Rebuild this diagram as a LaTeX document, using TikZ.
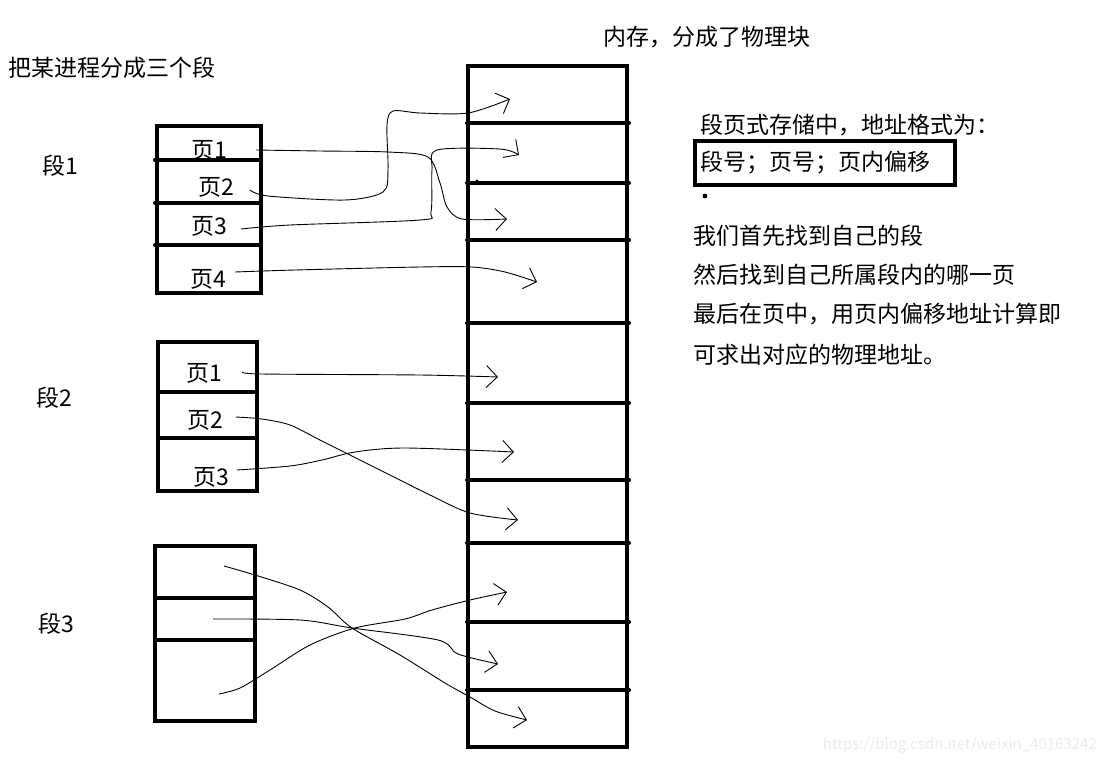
\documentclass[tikz,border=0pt]{standalone}
\usepackage{fontspec}
\setmainfont{Noto Sans CJK SC}
\usetikzlibrary{arrows.meta}

\begin{document}
\begin{tikzpicture}[x=1pt,y=-1pt,
    txt/.style={font=\fontsize{23}{27}\selectfont,inner sep=0pt},
    box/.style={line width=4.5pt},
    cut/.style={line width=4pt,line cap=round},
    link/.style={line width=0.9pt,-{Straight Barb[length=11pt,width=22pt,line width=0.9pt]}}]
    \useasboundingbox (0,0) rectangle (1104,764);
    % titles
    \node[txt,anchor=west] (title) at (8,68) {把某进程分成三个段};
    \node[txt,anchor=west] (memtitle) at (603,37) {内存，分成了物理块};
    % memory
    \draw[box] (468,66) rectangle (627,747);
    \foreach \y in {123,183,240,323,403,480,543,622,690}
        \draw[cut] (467,\y) -- (629,\y);
    \fill (477,181) circle (1.6pt);
    % segment 1
    \node[txt] (seg1) at (60,166) {段1};
    \draw[box] (157,126) rectangle (261,293);
    \foreach \y in {160,203,245} \draw[cut] (155,\y) -- (261,\y);
    \node[txt] (s1p1) at (209,150) {页1};
    \node[txt] (s1p2) at (216,187) {页2};
    \node[txt] (s1p3) at (209,226) {页3};
    \node[txt] (s1p4) at (208,279) {页4};
    % segment 2
    \node[txt] (seg2) at (54,398) {段2};
    \draw[box] (158,342) rectangle (257,491);
    \foreach \y in {392,438} \draw[cut] (158,\y) -- (257,\y);
    \node[txt] (s2p1) at (204,373) {页1};
    \node[txt] (s2p2) at (205,420) {页2};
    \node[txt] (s2p3) at (211,477) {页3};
    % segment 3
    \node[txt] (seg3) at (56,624) {段3};
    \draw[box] (155,546) rectangle (255,721);
    \foreach \y in {598,640} \draw[cut] (155,\y) -- (255,\y);
    % start and end points
    \coordinate (a11) at (256,150);
    \coordinate (a12) at (250,190);
    \coordinate (a13) at (241,229);
    \coordinate (a14) at (235,272);
    \coordinate (a21) at (243,372);
    \coordinate (a22) at (236,417);
    \coordinate (a23) at (237,470);
    \coordinate (a31) at (224,566);
    \coordinate (a32) at (213,619);
    \coordinate (a33) at (219,694);
    \coordinate (m1) at (510,99);
    \coordinate (m2) at (519,155);
    \coordinate (m3) at (507,219);
    \coordinate (m4) at (537,282);
    \coordinate (m5) at (498,377);
    \coordinate (m6) at (514,452);
    \coordinate (m7) at (518,520);
    \coordinate (m8) at (507,592);
    \coordinate (m9) at (498,664);
    \coordinate (m10) at (527,720);
    % connectors
    \draw[link] plot[smooth,tension=.5] coordinates {(a11) (320,151) (388,152) (428,157) (440,183) (447,207) (462,219) (m3)};
    \draw[link] plot[smooth,tension=.5] coordinates {(a12) (268,196) (345,200) (383,192) (388,170) (387,125) (393,111) (420,113) (468,113) (m1)};
    \draw[link] plot[smooth,tension=.5] coordinates {(a13) (290,225) (420,220) (431,212) (432,170) (437,150) (500,149) (m2)};
    \draw[link] plot[smooth,tension=.5] coordinates {(a14) (295,270) (420,267) (472,267) (505,272) (m4)};
    \draw[link] plot[smooth,tension=.5] coordinates {(a21) (262,374) (420,375) (m5)};
    \draw[link] plot[smooth,tension=.5] coordinates {(a22) (262,419) (290,425) (320,440) (380,470) (430,495) (470,513) (m7)};
    \draw[link] plot[smooth,tension=.5] coordinates {(a23) (290,466) (322,460) (355,452) (405,448) (m6)};
    \draw[link] plot[smooth,tension=.5] coordinates {(a31) (255,575) (300,590) (328,607) (352,628) (400,655) (445,683) (470,697) (495,711) (m10)};
    \draw[link] plot[smooth,tension=.5] coordinates {(a32) (300,620) (352,628) (438,640) (458,654) (m9)};
    \draw[link] plot[smooth,tension=.5] coordinates {(a33) (240,688) (270,670) (310,645) (355,628) (405,619) (432,610) (470,600) (m8)};
    % right side text
    \node[txt,anchor=west] (fmt) at (700,125) {段页式存储中，地址格式为：};
    \node[txt,anchor=west,draw,line width=4pt,inner sep=0pt,minimum width=260pt,minimum height=44pt,
        text width=250pt,align=left,inner xsep=5pt] (addr) at (693,163) {段号；页号；页内偏移};
    \fill (705,196) circle (2.4pt);
    \node[txt,anchor=west] (l1) at (693,236) {我们首先找到自己的段};
    \node[txt,anchor=west] (l2) at (693,275) {然后找到自己所属段内的哪一页};
    \node[txt,anchor=west] (l3) at (693,314) {最后在页中，用页内偏移地址计算即};
    \node[txt,anchor=west] (l4) at (693,355) {可求出对应的物理地址。};
    \node[anchor=east,inner sep=0pt,text=black!8,font=\fontsize{15}{17}\selectfont] (mark) at (1097,745) {https://blog.csdn.net/weixin\_40163242};
\end{tikzpicture}
\end{document}
